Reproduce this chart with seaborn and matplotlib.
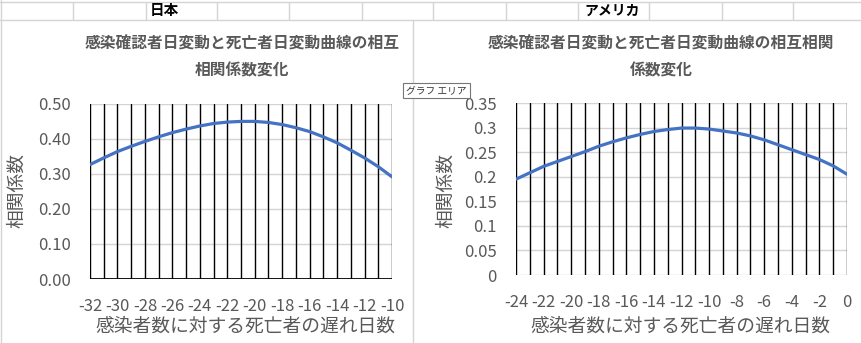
import numpy as np
import pandas as pd
import matplotlib
matplotlib.use("Agg")
import matplotlib.pyplot as plt
import seaborn as sns
from matplotlib.lines import Line2D

# ---------------- data ----------------
jp_lag = list(range(-32, -9))
jp_corr = [0.326, 0.345, 0.363, 0.378, 0.392, 0.405, 0.417, 0.427, 0.436, 0.443,
           0.447, 0.449, 0.449, 0.446, 0.440, 0.431, 0.420, 0.405, 0.388, 0.367,
           0.345, 0.320, 0.291]
us_lag = list(range(-24, 1))
us_corr = [0.195, 0.208, 0.221, 0.231, 0.241, 0.251, 0.262, 0.271, 0.279, 0.286,
           0.292, 0.296, 0.299, 0.299, 0.297, 0.293, 0.289, 0.283, 0.275, 0.265,
           0.255, 0.245, 0.235, 0.222, 0.205]
jp_yticks = [0.0, 0.1, 0.2, 0.3, 0.4, 0.5]
jp_yticklabels = ["0.00", "0.10", "0.20", "0.30", "0.40", "0.50"]
us_yticks = [0, 0.05, 0.1, 0.15, 0.2, 0.25, 0.3, 0.35]
us_yticklabels = ["0", "0.05", "0.1", "0.15", "0.2", "0.25", "0.3", "0.35"]
jp_title = "感染確認者日変動と死亡者日変動曲線の相互\n相関係数変化"
us_title = "感染確認者日変動と死亡者日変動曲線の相互相関\n係数変化"
xlabel = "感染者数に対する死亡者の遅れ日数"
ylabel = "相関係数"

sns.set_style("white")
plt.rcParams["font.family"] = ["Noto Sans CJK JP", "DejaVu Sans"]

W, H = 861, 343
fig = plt.figure(figsize=(W / 100, H / 100), dpi=100)
fig.patch.set_facecolor("white")

def fx(px):
    return px / W

def fy(py):
    return 1 - py / H

GRID = "#D4D4D4"
TXT = "#595959"
BLUE = "#4472C4"

# ---------- spreadsheet background ----------
for yy in [1.5, 20]:
    fig.add_artist(Line2D([0, 1], [fy(yy), fy(yy)], color=GRID, lw=1))
for xx in [73, 146, 217, 289, 362, 433, 506, 578, 649, 722, 793]:
    fig.add_artist(Line2D([fx(xx), fx(xx)], [fy(1.5), fy(20)], color=GRID, lw=1))
fig.add_artist(Line2D([fx(1), fx(1)], [0, 1], color=GRID, lw=1))
fig.add_artist(Line2D([fx(412.5), fx(412.5)], [0, fy(20)], color=GRID, lw=1))
fig.text(fx(164), fy(10.5), "日本", ha="center", va="center", fontsize=10.5,
         fontweight="bold", color="black")
fig.text(fx(612), fy(10.5), "アメリカ", ha="center", va="center", fontsize=10,
         fontweight="bold", color="black")

def make_chart(rect, lags, corr, yticks, yticklabels, ylim, title, tcx, ylx,
               xlabel_cx, thick_base):
    l, t, r, b = rect
    ax = fig.add_axes([fx(l), fy(b), fx(r - l), (b - t) / H])
    ax.set_facecolor("none")
    df = pd.DataFrame({"lag": lags, "corr": corr})
    for v in lags:
        ax.axvline(v, color="black", lw=1.0, zorder=1)
    for yt in yticks:
        ax.axhline(yt, color=GRID, lw=1.0, zorder=0.5)
    if thick_base:
        ax.axhline(0, color="black", lw=2.0, zorder=2)
    sns.lineplot(data=df, x="lag", y="corr", ax=ax, color=BLUE, lw=2.3,
                 zorder=3)
    ax.set_xlim(lags[0], lags[-1])
    ax.set_ylim(*ylim)
    ax.set_xticks(lags[::2])
    ax.set_xticklabels([str(v) for v in lags[::2]])
    ax.set_yticks(yticks)
    ax.set_yticklabels(yticklabels)
    ax.tick_params(axis="x", length=0, pad=14, labelsize=12, labelcolor=TXT)
    ax.tick_params(axis="y", length=0, pad=14, labelsize=12, labelcolor=TXT)
    ax.set_xlabel("")
    ax.set_ylabel("")
    for s in ax.spines.values():
        s.set_visible(False)
    ax.grid(False)
    lines = title.split("\n")
    fig.text(fx(tcx), fy(43.5), lines[0], ha="center", va="center",
             fontsize=11.3, fontweight="bold", color=TXT)
    fig.text(fx(tcx), fy(70.5), lines[1], ha="center", va="center",
             fontsize=11.3, fontweight="bold", color=TXT)
    fig.text(fx(xlabel_cx), fy(326), xlabel, ha="center", va="center",
             fontsize=13.5, color=TXT)
    fig.text(fx(ylx), fy(190), ylabel, ha="center", va="center", fontsize=13.5,
             color=TXT, rotation=90)
    return ax

make_chart((90, 103.5, 392, 279), jp_lag, jp_corr, jp_yticks, jp_yticklabels,
           (0, 0.5), jp_title, 242, 17, 245, True)
make_chart((516, 103, 847, 275), us_lag, us_corr, us_yticks, us_yticklabels,
           (0, 0.35), us_title, 661, 446, 680, False)

# tooltip
fig.text(fx(436.5), fy(90.5), "グラフ エリア", ha="center", va="center",
         fontsize=7, color="#333333",
         bbox=dict(boxstyle="square,pad=0.3", fc="white", ec="#767676", lw=0.8))

fig.savefig("out.png", dpi=100, facecolor="white")
